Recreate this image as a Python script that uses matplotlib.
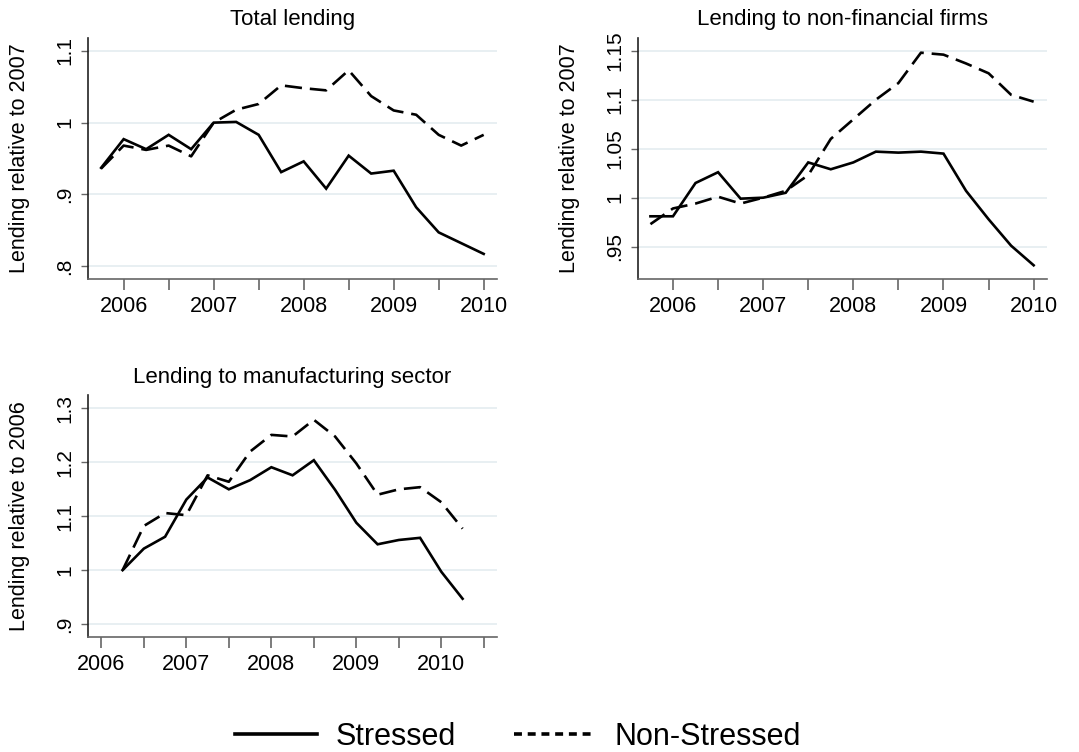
import matplotlib
matplotlib.use("Agg")
import matplotlib.pyplot as plt
from matplotlib.lines import Line2D
from matplotlib.ticker import FixedLocator
import numpy as np

plt.rcParams["font.family"] = ["Liberation Sans", "DejaVu Sans"]

# quarterly observations
dates_a = [2005.75 + 0.25 * i for i in range(18)]   # 2005q4 .. 2010q1
dates_c = [2006.25 + 0.25 * i for i in range(17)]   # 2006q2 .. 2010q2

total_stressed = [0.937, 0.977, 0.963, 0.983, 0.963, 1.000, 1.001, 0.983, 0.931,
                  0.946, 0.908, 0.954, 0.929, 0.933, 0.882, 0.847, 0.832, 0.817]
total_nonstressed = [0.936, 0.968, 0.962, 0.968, 0.953, 1.000, 1.018, 1.026, 1.052,
                     1.048, 1.045, 1.073, 1.037, 1.017, 1.011, 0.983, 0.968, 0.983]

nfc_stressed = [0.981, 0.981, 1.015, 1.026, 0.999, 1.000, 1.005, 1.036, 1.029,
                1.036, 1.047, 1.046, 1.047, 1.045, 1.007, 0.978, 0.951, 0.931]
nfc_nonstressed = [0.973, 0.989, 0.994, 1.001, 0.994, 1.000, 1.007, 1.023, 1.060,
                   1.080, 1.100, 1.117, 1.148, 1.146, 1.137, 1.127, 1.105, 1.098]

manu_stressed = [1.000, 1.040, 1.062, 1.131, 1.172, 1.150, 1.167, 1.191, 1.176,
                 1.204, 1.149, 1.088, 1.048, 1.056, 1.060, 0.997, 0.947]
manu_nonstressed = [1.000, 1.082, 1.106, 1.102, 1.176, 1.164, 1.220, 1.251, 1.248,
                    1.279, 1.248, 1.198, 1.140, 1.150, 1.154, 1.126, 1.077]

year_ticks = [2006, 2007, 2008, 2009, 2010]

panels = [
    dict(title="Total lending", ylabel="Lending relative to 2007",
         x=dates_a, s=total_stressed, n=total_nonstressed,
         yticks=[0.8, 0.9, 1.0, 1.1], ylabels=[".8", ".9", "1", "1.1"],
         ylim=(0.782, 1.118), xlim=(2005.604, 2010.148),
         halfyears=np.arange(2006.0, 2010.01, 0.5),
         box=(88, 38, 497, 279)),
    dict(title="Lending to non-financial firms", ylabel="Lending relative to 2007",
         x=dates_a, s=nfc_stressed, n=nfc_nonstressed,
         yticks=[0.95, 1.0, 1.05, 1.1, 1.15], ylabels=[".95", "1", "1.05", "1.1", "1.15"],
         ylim=(0.917, 1.163), xlim=(2005.612, 2010.148),
         halfyears=np.arange(2006.0, 2010.01, 0.5),
         box=(638, 38, 1047, 279)),
    dict(title="Lending to manufacturing sector", ylabel="Lending relative to 2006",
         x=dates_c, s=manu_stressed, n=manu_nonstressed,
         yticks=[0.9, 1.0, 1.1, 1.2, 1.3], ylabels=[".9", "1", "1.1", "1.2", "1.3"],
         ylim=(0.876, 1.325), xlim=(2005.843, 2010.655),
         halfyears=np.arange(2006.0, 2010.51, 0.5),
         box=(88, 395, 497, 637)),
]

W, H = 1079, 752
fig = plt.figure(figsize=(W / 100, H / 100), dpi=100)

GRID = "#e8eff2"
LW = 1.9
DASH = (6.5, 3.0)

for p in panels:
    l, t, r, b = p["box"]
    ax = fig.add_axes([l / W, 1 - b / H, (r - l) / W, (b - t) / H])
    ax.plot(p["x"], p["s"], color="black", lw=LW, solid_joinstyle="miter")
    ax.plot(p["x"], p["n"], color="black", lw=LW, dashes=DASH)
    ax.set_xlim(*p["xlim"])
    ax.set_ylim(*p["ylim"])
    ax.set_yticks(p["yticks"])
    ax.set_yticklabels(p["ylabels"], rotation=90, va="center", fontsize=15)
    ax.xaxis.set_major_locator(FixedLocator(year_ticks))
    ax.xaxis.set_minor_locator(FixedLocator([h for h in p["halfyears"] if h not in year_ticks]))
    ax.set_xticklabels([str(y) for y in year_ticks], fontsize=15.5)
    ax.tick_params(axis="x", which="both", length=8, width=1.2, color="#666666", pad=4)
    ax.tick_params(axis="y", length=5, width=1.0, color="#666666", pad=5)
    for yv in p["yticks"]:
        ax.axhline(yv, color=GRID, lw=1.4, zorder=0)
    for side in ("top", "right"):
        ax.spines[side].set_visible(False)
    ax.spines["left"].set_color("#222222")
    ax.spines["bottom"].set_color("#666666")
    for side in ("left", "bottom"):
        ax.spines[side].set_linewidth(1.2)
    ax.set_title(p["title"], fontsize=16, pad=9)
    ax.set_ylabel(p["ylabel"], fontsize=15.5, labelpad=18)

handles = [Line2D([], [], color="black", lw=2.6),
           Line2D([], [], color="black", lw=2.6, dashes=(2.2, 1.6))]
fig.legend(handles, ["Stressed", "Non-Stressed"], loc="lower center",
           bbox_to_anchor=(0.48, -0.036), ncol=2, frameon=False, fontsize=22,
           handlelength=2.7, columnspacing=1.9, handletextpad=0.6)

fig.savefig("out.png", dpi=100)
